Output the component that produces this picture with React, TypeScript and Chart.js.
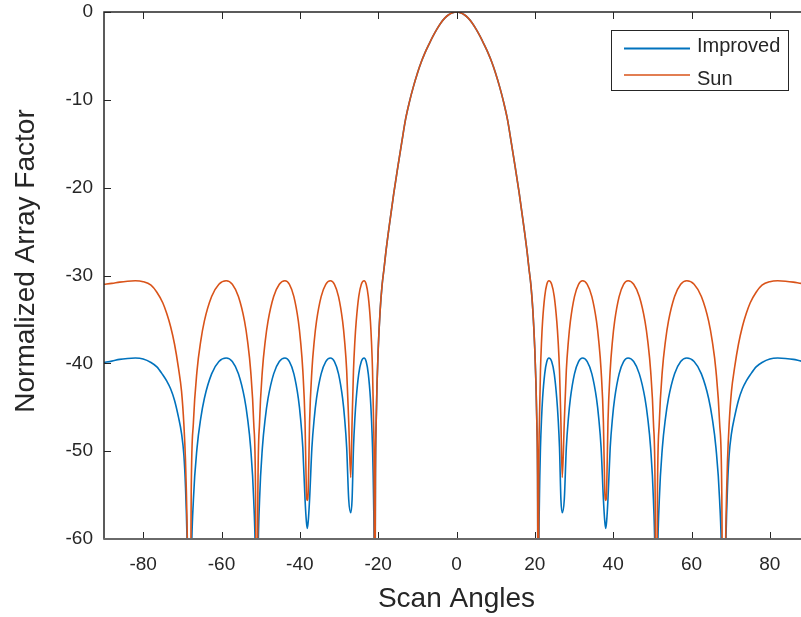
import { useEffect, useRef } from "react";
import { Chart, registerables } from "chart.js";

Chart.register(...registerables);

// Scan angle grid (degrees), shared by both series
const angles = [
  -90, -88, -86, -84, -82, -80, -78, -76.5, -75, -74, -73, -72, -71, -70.2, -69.6, -69.2, -68.8,
  -68.1,
  -67.73, -67.17, -66.24, -65.31, -64.38, -62.52, -60.66, -58.8, -57.24, -55.68, -54.12, -53.34, -52.56, -51.78, -51.31,
  -51.0,
  -50.71, -50.28, -49.56, -48.84, -48.12, -46.68, -45.24, -43.8, -42.66, -41.52, -40.38, -39.81, -39.24, -38.67, -38.33,
  -38.1,
  -37.86, -37.51, -36.92, -36.33, -35.74, -34.56, -33.38, -32.2, -31.16, -30.12, -29.08, -28.56, -28.04, -27.52,
  -27.0,
  -26.66, -26.3, -25.95, -25.6, -24.96, -24.3, -23.6, -23.06, -22.52, -21.98, -21.71, -21.44, -21.17, -21.0,
  -20.9, -20.7, -20.5, -20.3, -20, -19.5, -19, -18.5, -18, -17, -16, -15, -14, -13, -12, -11, -10, -9, -8, -7, -6, -5, -4, -3, -2, -1,
  0,
  1, 2, 3, 4, 5, 6, 7, 8, 9, 10, 11, 12, 13, 14, 15, 16, 17, 18, 18.5, 19, 19.5, 20, 20.3, 20.5, 20.7, 20.9,
  21.0, 21.17, 21.44, 21.71, 21.98, 22.52, 23.06, 23.6, 24.3, 24.96, 25.6, 25.95, 26.3, 26.66,
  27.0,
  27.52, 28.04, 28.56, 29.08, 30.12, 31.16, 32.2, 33.38, 34.56, 35.74, 36.33, 36.92, 37.51, 37.86,
  38.1,
  38.33, 38.67, 39.24, 39.81, 40.38, 41.52, 42.66, 43.8, 45.24, 46.68, 48.12, 48.84, 49.56, 50.28, 50.71,
  51.0,
  51.31, 51.78, 52.56, 53.34, 54.12, 55.68, 57.24, 58.8, 60.66, 62.52, 64.38, 65.31, 66.24, 67.17, 67.73,
  68.1,
  68.8, 69.2, 69.6, 70.2, 71, 72, 73, 74, 75, 76.5, 78, 80, 82, 84, 86, 88, 90,
];

// Normalized array factor (dB), "Improved"
const improved = [
  -39.9, -39.75, -39.55, -39.45, -39.4, -39.5, -39.9, -40.4, -41.3, -42.0, -42.9, -44.2, -46.1, -48.0, -50.5, -54.0, -60.0,
  -80,
  -63.4, -55.5, -49.6, -46.3, -44.0, -41.2, -39.8, -39.4, -39.8, -41.2, -44.0, -46.3, -49.6, -55.5, -63.4,
  -80,
  -63.4, -55.5, -49.6, -46.3, -44.0, -41.2, -39.8, -39.4, -39.8, -41.2, -44.0, -46.3, -49.6, -55.5, -58.0,
  -58.8,
  -58.0, -55.5, -49.6, -46.3, -44.0, -41.2, -39.8, -39.4, -39.8, -41.2, -44.0, -46.3, -49.6, -55.5,
  -57.0,
  -55.5, -49.6, -46.3, -44.0, -41.2, -39.8, -39.4, -39.8, -41.2, -44.0, -46.3, -49.6, -55.5, -63.4,
  -80, -53.0, -46.5, -42.5, -38.5, -34.0, -31.1, -29.2, -27.2, -23.8, -20.6, -17.7, -14.9, -12.2, -10.2, -8.5, -7.0, -5.7, -4.6, -3.65, -2.75, -1.95, -1.25, -0.7, -0.31, -0.08,
  0,
  -0.08, -0.31, -0.7, -1.25, -1.95, -2.75, -3.65, -4.6, -5.7, -7.0, -8.5, -10.2, -12.2, -14.9, -17.7, -20.6, -23.8, -27.2, -29.2, -31.1, -34.0, -38.5, -42.5, -46.5, -53.0, -80,
  -63.4, -55.5, -49.6, -46.3, -44.0, -41.2, -39.8, -39.4, -39.8, -41.2, -44.0, -46.3, -49.6, -55.5,
  -57.0,
  -55.5, -49.6, -46.3, -44.0, -41.2, -39.8, -39.4, -39.8, -41.2, -44.0, -46.3, -49.6, -55.5, -58.0,
  -58.8,
  -58.0, -55.5, -49.6, -46.3, -44.0, -41.2, -39.8, -39.4, -39.8, -41.2, -44.0, -46.3, -49.6, -55.5, -63.4,
  -80,
  -63.4, -55.5, -49.6, -46.3, -44.0, -41.2, -39.8, -39.4, -39.8, -41.2, -44.0, -46.3, -49.6, -55.5, -63.4,
  -80,
  -60.0, -54.0, -50.5, -48.0, -46.1, -44.2, -42.9, -42.0, -41.3, -40.4, -39.9, -39.5, -39.4, -39.45, -39.55, -39.75, -39.9,
];

// Normalized array factor (dB), "Sun"
const sun = [
  -31.0, -30.9, -30.75, -30.65, -30.6, -30.7, -31.1, -31.9, -33.1, -34.3, -35.8, -37.8, -40.5, -43.2, -47.0, -51.0, -58.0,
  -80,
  -54.6, -46.7, -40.8, -37.5, -35.2, -32.4, -31.0, -30.6, -31.0, -32.4, -35.2, -37.5, -40.8, -46.7, -54.6,
  -80,
  -54.6, -46.7, -40.8, -37.5, -35.2, -32.4, -31.0, -30.6, -31.0, -32.4, -35.2, -37.5, -40.8, -46.7, -54.6,
  -55.6,
  -54.6, -46.7, -40.8, -37.5, -35.2, -32.4, -31.0, -30.6, -31.0, -32.4, -35.2, -37.5, -40.8, -46.7,
  -53.0,
  -46.7, -40.8, -37.5, -35.2, -32.4, -31.0, -30.6, -31.0, -32.4, -35.2, -37.5, -40.8, -46.7, -54.6,
  -80, -53.0, -46.5, -42.5, -38.5, -34.0, -31.1, -29.2, -27.2, -23.8, -20.6, -17.7, -14.9, -12.2, -10.2, -8.5, -7.0, -5.7, -4.6, -3.65, -2.75, -1.95, -1.25, -0.7, -0.31, -0.08,
  0,
  -0.08, -0.31, -0.7, -1.25, -1.95, -2.75, -3.65, -4.6, -5.7, -7.0, -8.5, -10.2, -12.2, -14.9, -17.7, -20.6, -23.8, -27.2, -29.2, -31.1, -34.0, -38.5, -42.5, -46.5, -53.0, -80,
  -54.6, -46.7, -40.8, -37.5, -35.2, -32.4, -31.0, -30.6, -31.0, -32.4, -35.2, -37.5, -40.8, -46.7,
  -53.0,
  -46.7, -40.8, -37.5, -35.2, -32.4, -31.0, -30.6, -31.0, -32.4, -35.2, -37.5, -40.8, -46.7, -54.6,
  -55.6,
  -54.6, -46.7, -40.8, -37.5, -35.2, -32.4, -31.0, -30.6, -31.0, -32.4, -35.2, -37.5, -40.8, -46.7, -54.6,
  -80,
  -54.6, -46.7, -40.8, -37.5, -35.2, -32.4, -31.0, -30.6, -31.0, -32.4, -35.2, -37.5, -40.8, -46.7, -54.6,
  -80,
  -58.0, -51.0, -47.0, -43.2, -40.5, -37.8, -35.8, -34.3, -33.1, -31.9, -31.1, -30.7, -30.6, -30.65, -30.75, -30.9, -31.0,
];

const xTicks = [-80, -60, -40, -20, 0, 20, 40, 60, 80];
const yTicks = [-60, -50, -40, -30, -20, -10, 0];
const seriesNames = ["Improved", "Sun"];
const xTitle = "Scan Angles";
const yTitle = "Normalized Array Factor";

const BLUE = "#0072BD";
const ORANGE = "#D95319";
const INK = "#262626";
const FONT = "Arial, 'Liberation Sans', Helvetica, sans-serif";

const boxPlugin = {
  id: "matlabBox",
  afterDraw(chart: any) {
    const { ctx, chartArea: a, scales } = chart;
    const xs = scales.x;
    const ys = scales.y;
    ctx.save();

    // tick marks (inward, all four sides)
    ctx.strokeStyle = INK;
    ctx.lineWidth = 1;
    const tl = 7;
    ctx.beginPath();
    xTicks.forEach((v) => {
      const px = Math.round(xs.getPixelForValue(v)) + 0.5;
      ctx.moveTo(px, a.bottom);
      ctx.lineTo(px, a.bottom - tl);
      ctx.moveTo(px, a.top);
      ctx.lineTo(px, a.top + tl);
    });
    yTicks.forEach((v) => {
      const py = Math.round(ys.getPixelForValue(v)) + 0.5;
      ctx.moveTo(a.left, py);
      ctx.lineTo(a.left + tl, py);
      ctx.moveTo(a.right, py);
      ctx.lineTo(a.right - tl, py);
    });
    ctx.stroke();

    // box
    ctx.lineWidth = 1.5;
    ctx.strokeStyle = INK;
    ctx.beginPath();
    ctx.moveTo(a.left, a.bottom);
    ctx.lineTo(a.left, a.top);
    ctx.lineTo(a.right, a.top);
    ctx.lineTo(a.right, a.bottom);
    ctx.stroke();
    ctx.lineWidth = 2;
    ctx.strokeStyle = "#6a6a6a";
    ctx.beginPath();
    ctx.moveTo(a.left - 0.75, a.bottom);
    ctx.lineTo(a.right, a.bottom);
    ctx.stroke();

    // y-axis title
    ctx.save();
    ctx.translate(26, 261);
    ctx.rotate(-Math.PI / 2);
    ctx.fillStyle = INK;
    ctx.font = `28px ${FONT}`;
    ctx.textAlign = "center";
    ctx.textBaseline = "middle";
    ctx.fillText(yTitle, 0, 0);
    ctx.restore();

    // legend
    const lx = 611.5, ly = 30.5, lw = 177, lh = 60;
    ctx.fillStyle = "#ffffff";
    ctx.fillRect(lx, ly, lw, lh);
    ctx.strokeStyle = INK;
    ctx.lineWidth = 1;
    ctx.strokeRect(lx, ly, lw, lh);
    const ds = chart.data.datasets;
    const rows = [
      { y: 48.5, ty: 52, ds: ds[0], w: 2 },
      { y: 75, ty: 85, ds: ds[1], w: 1.6 },
    ];
    ctx.font = `20px ${FONT}`;
    ctx.textAlign = "left";
    ctx.textBaseline = "alphabetic";
    rows.forEach((r) => {
      ctx.strokeStyle = r.ds.borderColor;
      ctx.lineWidth = r.w;
      ctx.beginPath();
      ctx.moveTo(624, r.y);
      ctx.lineTo(690, r.y);
      ctx.stroke();
      ctx.fillStyle = INK;
      ctx.fillText(r.ds.label, 697, r.ty);
    });

    ctx.restore();
  },
};

export default function App() {
  const ref = useRef<HTMLCanvasElement | null>(null);

  useEffect(() => {
    if (!ref.current) return;
    const chart = new Chart(ref.current, {
      type: "line",
      data: {
        datasets: [
          {
            label: seriesNames[0],
            data: angles.map((a, i) => ({ x: a, y: improved[i] })),
            borderColor: BLUE,
            backgroundColor: BLUE,
            borderWidth: 1.6,
            pointRadius: 0,
            cubicInterpolationMode: "monotone",
            fill: false,
            order: 1,
          },
          {
            label: seriesNames[1],
            data: angles.map((a, i) => ({ x: a, y: sun[i] })),
            borderColor: ORANGE,
            backgroundColor: ORANGE,
            borderWidth: 1.6,
            pointRadius: 0,
            cubicInterpolationMode: "monotone",
            fill: false,
            order: 0,
          },
        ],
      },
      options: {
        animation: false,
        responsive: false,
        devicePixelRatio: 1,
        layout: { padding: { left: 0, right: 21, top: 12, bottom: 0 } },
        plugins: {
          legend: { display: false },
          tooltip: { enabled: false },
          title: { display: false },
        },
        scales: {
          x: {
            type: "linear",
            min: -90,
            max: 90,
            afterBuildTicks: (s: any) => {
              s.ticks = xTicks.map((v) => ({ value: v }));
            },
            afterFit: (s: any) => {
              s.height = 78;
              s.paddingLeft = 0;
              s.paddingRight = 0;
              s.paddingTop = 0;
              s.paddingBottom = 0;
            },
            grid: { display: false, drawTicks: false },
            border: { display: false },
            ticks: {
              padding: 14,
              color: INK,
              font: { size: 19, family: FONT },
              maxRotation: 0,
              autoSkip: false,
            },
            title: {
              display: true,
              text: xTitle,
              color: INK,
              font: { size: 28, family: FONT },
              padding: { top: 0, bottom: 1 },
            },
          },
          y: {
            type: "linear",
            min: -60,
            max: 0,
            afterBuildTicks: (s: any) => {
              s.ticks = yTicks.map((v) => ({ value: v }));
            },
            afterFit: (s: any) => {
              s.width = 104;
              s.paddingTop = 0;
              s.paddingBottom = 0;
              s.paddingLeft = 0;
              s.paddingRight = 0;
            },
            grid: { display: false, drawTicks: false },
            border: { display: false },
            ticks: {
              padding: 11,
              color: INK,
              font: { size: 19, family: FONT },
              autoSkip: false,
            },
          },
        },
      },
      plugins: [boxPlugin],
    } as any);
    return () => chart.destroy();
  }, []);

  return (
    <div
      style={{
        position: "absolute",
        left: 0,
        top: 0,
        width: 801,
        height: 617,
        overflow: "hidden",
        background: "#ffffff",
      }}
    >
      <canvas ref={ref} width={830} height={617} style={{ display: "block" }} />
    </div>
  );
}
